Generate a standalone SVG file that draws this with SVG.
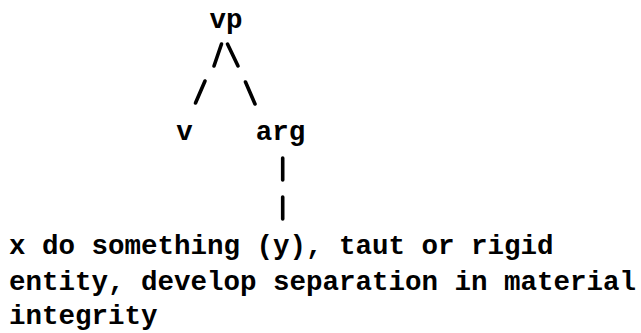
<svg xmlns="http://www.w3.org/2000/svg" width="641" height="333" viewBox="0 0 641 333">
<style>
  text { font-family: "Liberation Mono", "DejaVu Sans Mono", monospace; font-weight: bold; font-size: 27.5px; fill: #000; }
  .c { text-anchor: middle; }
  .edge { stroke: #000; stroke-width: 3.6; stroke-linecap: round; fill: none; }
</style>
<rect width="641" height="333" fill="#fff"/>
<g id="connectors">
  <line class="edge" x1="214" y1="66" x2="221.5" y2="44"/>
  <line class="edge" x1="227.5" y1="44" x2="238" y2="66"/>
  <line class="edge" x1="195.5" y1="103" x2="205" y2="81"/>
  <line class="edge" x1="245.5" y1="82" x2="255" y2="104"/>
  <line class="edge" x1="282.7" y1="158" x2="282.7" y2="180"/>
  <line class="edge" x1="282.7" y1="197" x2="282.7" y2="219"/>
</g>
<g id="node-vp"><text class="c" x="226" y="28">vp</text></g>
<g id="node-v"><text class="c" x="184.5" y="140">v</text></g>
<g id="node-arg"><text class="c" x="280.5" y="140">arg</text></g>
<g id="node-gloss">
  <text x="9" y="254">x do something (y), taut or rigid</text>
  <text x="9" y="290">entity, develop separation in material</text>
  <text x="9" y="324">integrity</text>
</g>
</svg>
